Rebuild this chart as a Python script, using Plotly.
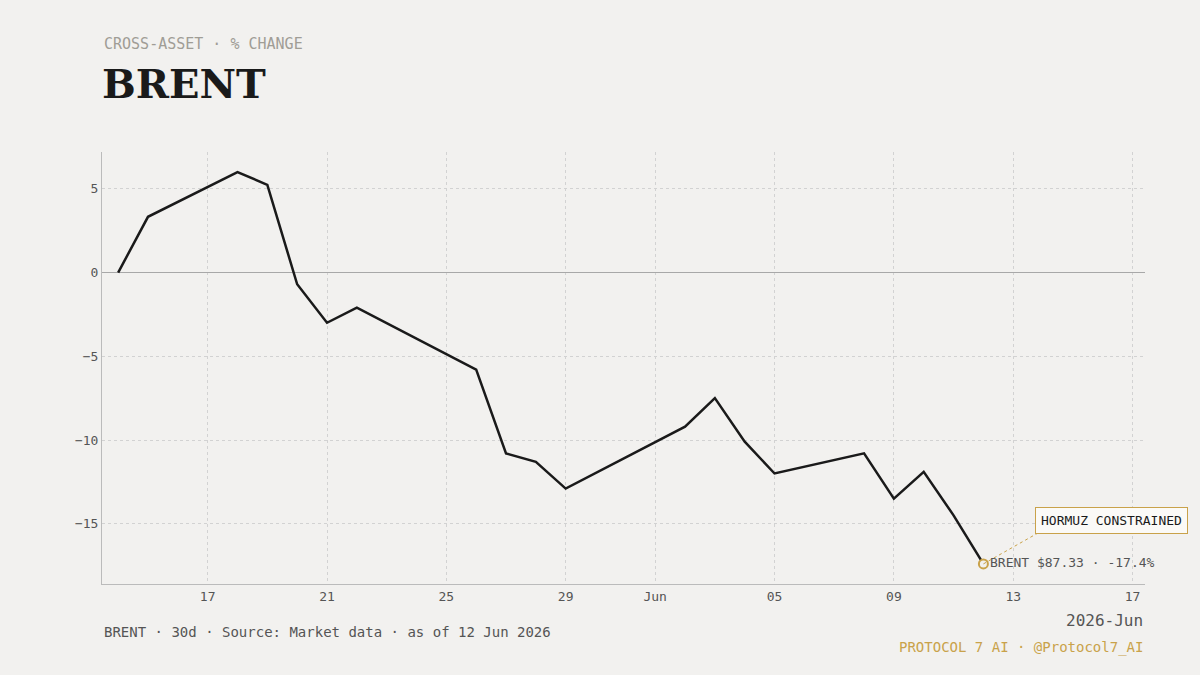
import plotly.graph_objects as go

BG = "#f2f1ef"
INK = "#1a1a1a"
GOLD = "#c9a24a"
MONO = "DejaVu Sans Mono"

dates = [
    "2026-05-14", "2026-05-15", "2026-05-18", "2026-05-19", "2026-05-20",
    "2026-05-21", "2026-05-22", "2026-05-26", "2026-05-27", "2026-05-28",
    "2026-05-29", "2026-06-02", "2026-06-03", "2026-06-04", "2026-06-05",
    "2026-06-08", "2026-06-09", "2026-06-10", "2026-06-11", "2026-06-12",
]
pct_change = [
    0.0, 3.33, 6.0, 5.24, -0.7, -3.0, -2.1, -5.8, -10.8, -11.3,
    -12.9, -9.2, -7.5, -10.1, -12.0, -10.8, -13.5, -11.9, -14.5, -17.4,
]


def plot_brent(dates: list, values: list) -> None:
    fig = go.Figure()

    # Main price line
    fig.add_trace(
        go.Scatter(
            x=dates,
            y=values,
            mode="lines",
            line=dict(color=INK, width=2.5),
            showlegend=False,
        )
    )

    # Dotted leader line to callout
    fig.add_shape(
        type="line", x0=dates[-1], y0=values[-1], x1="2026-06-13 20:00", y1=-15.55,
        line=dict(color=GOLD, width=1, dash="dot"),
    )

    # Last point marker
    fig.add_trace(
        go.Scatter(
            x=[dates[-1]],
            y=[values[-1]],
            mode="markers+text",
            marker=dict(size=9, color=BG, line=dict(color=GOLD, width=2)),
            text=["BRENT $87.33 · -17.4%"],
            textposition="middle right",
            textfont=dict(family=MONO, size=13, color="#555555"),
            cliponaxis=False,
            showlegend=False,
        )
    )

    tickvals = ["2026-05-17", "2026-05-21", "2026-05-25", "2026-05-29", "2026-06-01",
                "2026-06-05", "2026-06-09", "2026-06-13", "2026-06-17"]
    ticktext = ["17", "21", "25", "29", "Jun", "05", "09", "13", "17"]

    fig.update_layout(
        width=1200,
        height=675,
        paper_bgcolor=BG,
        plot_bgcolor=BG,
        margin=dict(l=102, r=55, t=152, b=91),
        font=dict(family=MONO, color="#555555", size=13),
        xaxis=dict(
            range=["2026-05-13 11:00", "2026-06-17 10:00"],
            tickvals=tickvals,
            ticktext=ticktext,
            showgrid=True,
            gridcolor="#d2d2d2",
            griddash="dot",
            showline=True,
            linecolor="#bbbbbb",
            ticks="",
            zeroline=False,
        ),
        yaxis=dict(
            range=[-18.6, 7.2],
            tickvals=[-15, -10, -5, 0, 5],
            showgrid=True,
            gridcolor="#d2d2d2",
            griddash="dot",
            showline=True,
            linecolor="#bbbbbb",
            zeroline=True,
            zerolinecolor="#a8a8a8",
            zerolinewidth=1,
            ticks="",
        ),
    )

    # Header and footer texts, placed by pixel position
    def note(text, x, y, size, color, family=MONO, xanchor="left", **kw):
        fig.add_annotation(
            text=text, x=(x - 102) / (1200 - 102 - 55),
            y=(675 - 91 - y) / (675 - 152 - 91), xref="paper", yref="paper",
            xanchor=xanchor, yanchor="middle", showarrow=False,
            font=dict(family=family, size=size, color=color), **kw,
        )

    note("CROSS-ASSET · % CHANGE", 102, 44, 15, "#a09d96")
    note("<b>BRENT</b>", 100, 84, 40, INK, family="DejaVu Serif")
    note("BRENT · 30d · Source: Market data · as of 12 Jun 2026", 102, 632, 14, "#555555")
    note("2026-Jun", 1145, 620, 16, "#555555", xanchor="right")
    note("PROTOCOL 7 AI · @Protocol7_AI", 1145, 647, 14, GOLD, xanchor="right")

    # Callout box
    note("HORMUZ CONSTRAINED", 1111, 520, 13, INK, xanchor="center",
         bordercolor=GOLD, borderwidth=1, borderpad=5, bgcolor="#fbfaf7")

    fig.write_html(
        "out.html",
        config={"displayModeBar": False},
        post_script="document.body.style.margin='0';",
    )


plot_brent(dates, pct_change)
